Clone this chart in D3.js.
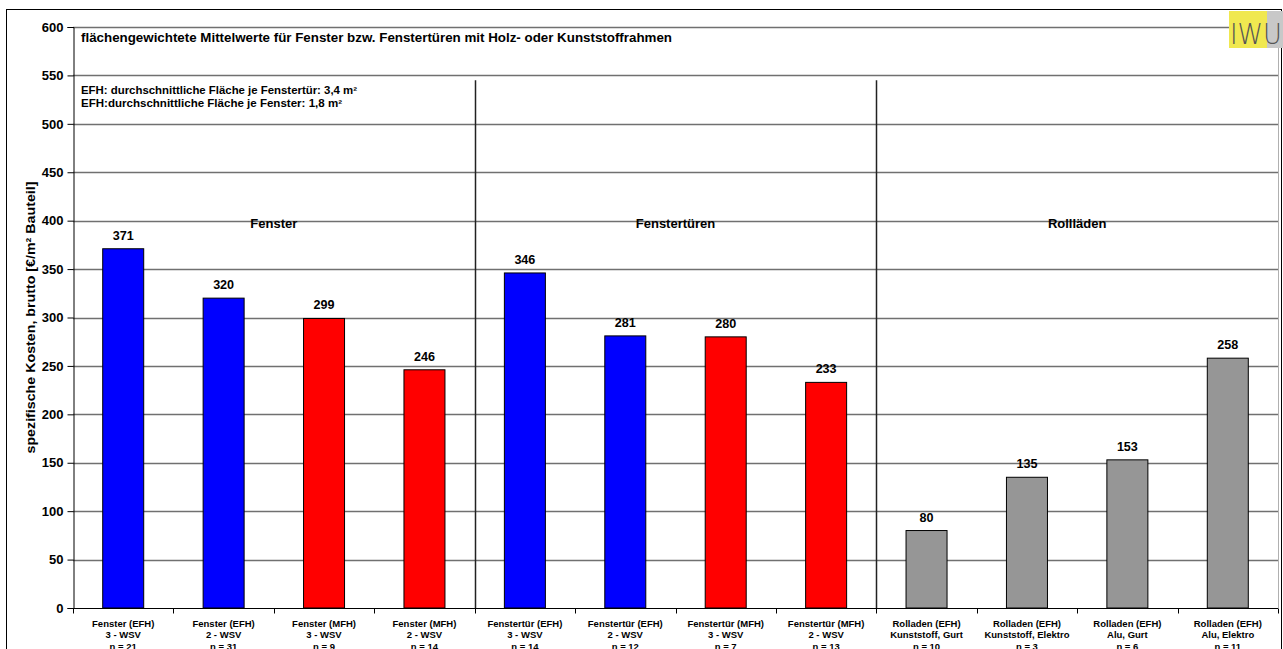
<!DOCTYPE html>
<html>
<head>
<meta charset="utf-8">
<script src="https://cdn.jsdelivr.net/npm/d3@7"></script>
<style>
  html, body { margin: 0; padding: 0; background: #fff; }
  svg { display: block; font-family: Arial, "Liberation Sans", sans-serif; }
</style>
</head>
<body>
<svg id="chart" width="1283" height="649"></svg>
<script>
// Categories: three label lines per bar
const labelLine1 = [
  "Fenster (EFH)", "Fenster (EFH)", "Fenster (MFH)", "Fenster (MFH)",
  "Fenstertür (EFH)", "Fenstertür (EFH)", "Fenstertür (MFH)", "Fenstertür (MFH)",
  "Rolladen (EFH)", "Rolladen (EFH)", "Rolladen (EFH)", "Rolladen (EFH)"
];
const labelLine2 = [
  "3 - WSV", "2 - WSV", "3 - WSV", "2 - WSV",
  "3 - WSV", "2 - WSV", "3 - WSV", "2 - WSV",
  "Kunststoff, Gurt", "Kunststoff, Elektro", "Alu, Gurt", "Alu, Elektro"
];
const labelLine3 = [
  "n = 21", "n = 31", "n = 9", "n = 14",
  "n = 14", "n = 12", "n = 7", "n = 13",
  "n = 10", "n = 3", "n = 6", "n = 11"
];
// Costs in €/m² component area (gross)
const costs = [371, 320, 299, 246, 346, 281, 280, 233, 80, 135, 153, 258];
// Bar fill group: efh / mfh / rolladen
const barGroup = ["efh", "efh", "mfh", "mfh", "efh", "efh", "mfh", "mfh", "rl", "rl", "rl", "rl"];
const yTicks = [0, 50, 100, 150, 200, 250, 300, 350, 400, 450, 500, 550, 600];
const sectionNames = ["Fenster", "Fenstertüren", "Rollläden"];
const sectionSize = 4;

const svg = d3.select("#chart");
const margin = { left: 73, right: 1278, top: 27, bottom: 608 };
const ids = d3.range(costs.length);

const x = d3.scaleBand().domain(ids).range([margin.left, margin.right]).paddingInner(0).paddingOuter(0);
const y = d3.scaleLinear().domain([0, 600]).range([margin.bottom, margin.top]);
const colour = d3.scaleOrdinal().domain(["efh", "mfh", "rl"]).range(["#0000ff", "#ff0000", "#969696"]);

// outer frame
svg.append("rect").attr("x", 6.5).attr("y", 9.5).attr("width", 1275).attr("height", 660)
  .attr("fill", "none").attr("stroke", "#000").attr("stroke-width", 1);

// gridlines
svg.append("g").selectAll("line").data(yTicks.filter(d => d > 0)).join("line")
  .attr("x1", margin.left).attr("x2", margin.right)
  .attr("y1", d => Math.round(y(d)) + 0.5).attr("y2", d => Math.round(y(d)) + 0.5)
  .attr("stroke", "#707070").attr("stroke-width", 1.3);

// right border of the plot area
svg.append("line").attr("x1", margin.right + 0.5).attr("x2", margin.right + 0.5)
  .attr("y1", margin.top).attr("y2", margin.bottom)
  .attr("stroke", "#b0b0b0").attr("stroke-width", 1);

// section separators
[1, 2].forEach(k => {
  const sx = Math.round(x(k * sectionSize)) + 0.5;
  svg.append("line").attr("x1", sx).attr("x2", sx)
    .attr("y1", y(545)).attr("y2", margin.bottom)
    .attr("stroke", "#222").attr("stroke-width", 1.5);
});

// bars
const bw = 41;
svg.append("g").selectAll("rect").data(ids).join("rect")
  .attr("x", i => x(i) + x.bandwidth() / 2 - bw / 2)
  .attr("y", i => y(costs[i]))
  .attr("width", bw)
  .attr("height", i => y(0) - y(costs[i]))
  .attr("fill", i => colour(barGroup[i]))
  .attr("stroke", "#000").attr("stroke-width", 1);

// value labels (slightly widened glyphs, 7px per digit)
svg.append("g").selectAll("text").data(ids).join("text")
  .attr("x", i => x(i) + x.bandwidth() / 2)
  .attr("y", i => y(costs[i]) - 9)
  .attr("text-anchor", "middle")
  .attr("font-size", 12.5).attr("font-weight", "bold")
  .attr("textLength", i => String(costs[i]).length * 7).attr("lengthAdjust", "spacingAndGlyphs")
  .text(i => costs[i]);

// section headings
svg.append("g").selectAll("text").data(sectionNames).join("text")
  .attr("x", (d, k) => (x(k * sectionSize) + x((k + 1) * sectionSize - 1) + x.bandwidth()) / 2)
  .attr("y", y(392))
  .attr("text-anchor", "middle")
  .attr("font-size", 13).attr("font-weight", "bold")
  .text(d => d);

// y axis
const yAxis = svg.append("g").attr("transform", `translate(${margin.left + 0.5},0)`)
  .call(d3.axisLeft(y).tickValues(yTicks).tickSize(6).tickPadding(4));
yAxis.select(".domain").attr("stroke", "#000").attr("stroke-width", 1);
yAxis.selectAll(".tick line").attr("stroke", "#000");
yAxis.selectAll("text").attr("font-size", 13).attr("font-weight", "bold")
  .attr("font-family", "Arial, 'Liberation Sans', sans-serif").attr("fill", "#000");

// x axis
const xAxis = svg.append("g").attr("transform", `translate(0,${margin.bottom + 0.5})`);
xAxis.append("line").attr("x1", margin.left).attr("x2", margin.right)
  .attr("stroke", "#000").attr("stroke-width", 1);
xAxis.selectAll("line.tk").data(d3.range(costs.length + 1)).join("line").attr("class", "tk")
  .attr("x1", i => Math.round(i < costs.length ? x(i) : margin.right) + 0.5)
  .attr("x2", i => Math.round(i < costs.length ? x(i) : margin.right) + 0.5)
  .attr("y1", 0).attr("y2", 5).attr("stroke", "#000");

const catLabels = xAxis.selectAll("text").data(ids).join("text")
  .attr("text-anchor", "middle").attr("font-size", 9.5).attr("font-weight", "bold");
[labelLine1, labelLine2, labelLine3].forEach((lines, li) => {
  catLabels.append("tspan")
    .attr("x", i => x(i) + x.bandwidth() / 2)
    .attr("y", 18 + li * 11.5)
    .text(i => lines[i]);
});

// y axis title
svg.append("text")
  .attr("transform", `translate(35,${(margin.top + margin.bottom) / 2}) rotate(-90)`)
  .attr("text-anchor", "middle")
  .attr("font-size", 13).attr("font-weight", "bold")
  .attr("textLength", 272).attr("lengthAdjust", "spacingAndGlyphs")
  .text("spezifische Kosten, brutto [€/m² Bauteil]");

// chart title and notes
svg.append("text").attr("x", 81).attr("y", 42)
  .attr("font-size", 12).attr("font-weight", "bold")
  .attr("textLength", 591).attr("lengthAdjust", "spacingAndGlyphs")
  .text("flächengewichtete Mittelwerte für Fenster bzw. Fenstertüren mit Holz- oder Kunststoffrahmen");
svg.append("text").attr("x", 81).attr("y", 94)
  .attr("font-size", 10).attr("font-weight", "bold")
  .attr("textLength", 276).attr("lengthAdjust", "spacingAndGlyphs")
  .text("EFH: durchschnittliche Fläche je Fenstertür: 3,4 m²");
svg.append("text").attr("x", 81).attr("y", 107)
  .attr("font-size", 10).attr("font-weight", "bold")
  .attr("textLength", 261).attr("lengthAdjust", "spacingAndGlyphs")
  .text("EFH:durchschnittliche Fläche je Fenster: 1,8 m²");

// IWU logo
const logo = svg.append("g");
logo.append("rect").attr("x", 1229).attr("y", 11).attr("width", 38).attr("height", 37).attr("fill", "#f0e850");
logo.append("rect").attr("x", 1267).attr("y", 11).attr("width", 20).attr("height", 37).attr("fill", "#c8c8c8");
logo.append("text").attr("x", 1230).attr("y", 44).attr("font-size", 28)
  .attr("font-family", "'DejaVu Sans', Arial, sans-serif").attr("font-weight", 300).attr("fill", "#555")
  .attr("textLength", 52).attr("lengthAdjust", "spacingAndGlyphs")
  .text("IWU");
</script>
</body>
</html>
